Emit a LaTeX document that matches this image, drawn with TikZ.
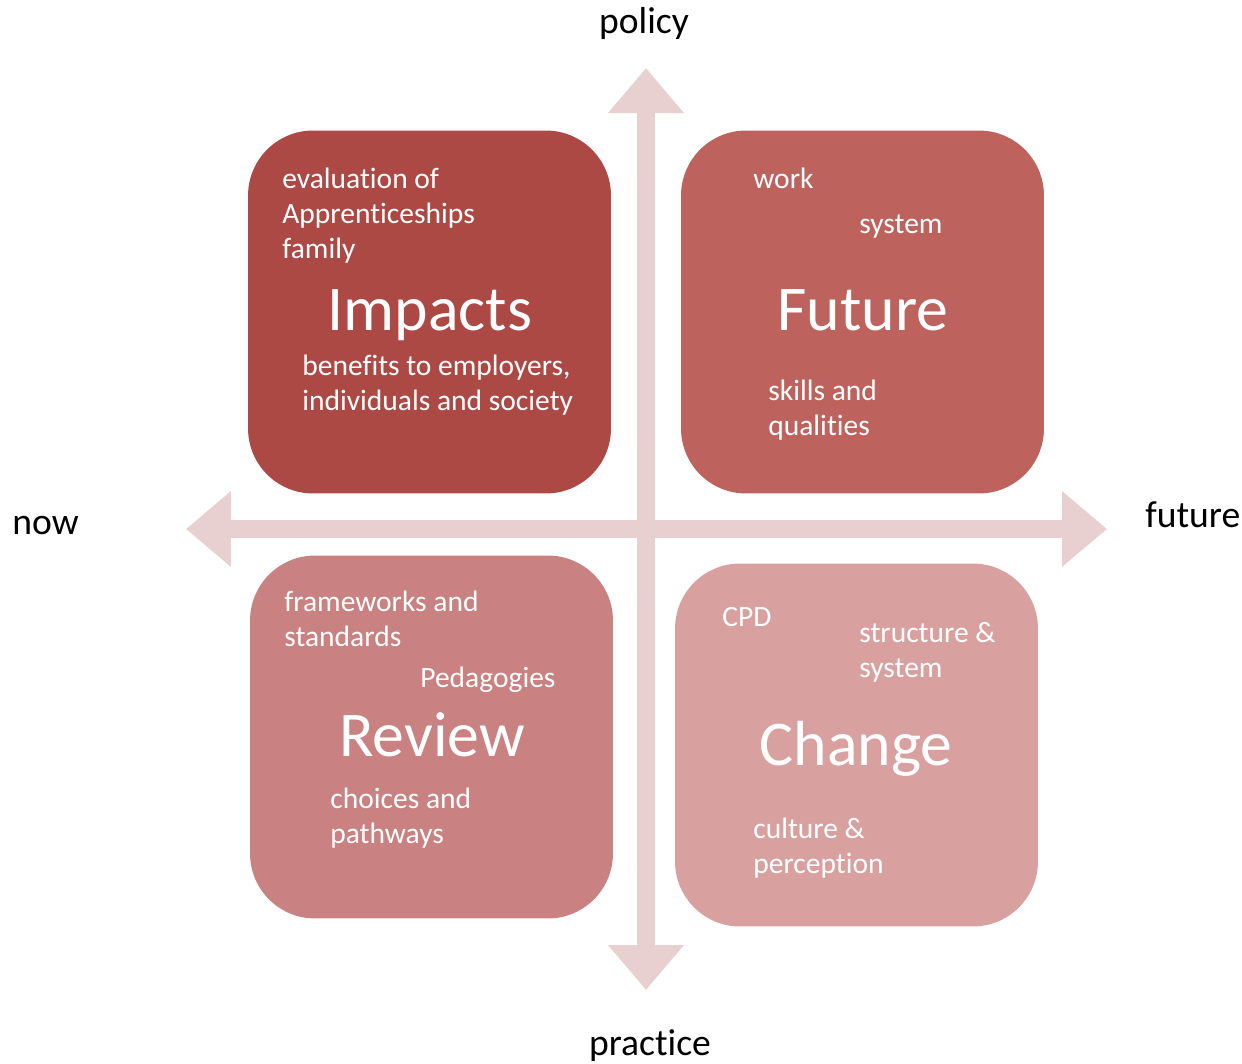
\documentclass[tikz,border=0pt]{standalone}
\usepackage{fontspec}
\setmainfont[Ligatures=NoCommon]{Carlito}
\usetikzlibrary{arrows.meta}

\definecolor{axiscol}{HTML}{E9D0D0}
\definecolor{impactcol}{HTML}{AD4945}
\definecolor{futurecol}{HTML}{BE625E}
\definecolor{reviewcol}{HTML}{C98181}
\definecolor{changecol}{HTML}{D8A1A0}

\begin{document}
\begin{tikzpicture}[
x=0.02cm, y=-0.02cm,
quad/.style={
  rounded corners=1.3cm,
  minimum size=7.26cm,
  inner sep=0
  },
axis/.style={
  axiscol,
  line width=0.36cm,
  {Triangle[width=1.46cm,length=0.9cm]}-{Triangle[width=1.46cm,length=0.9cm]}
  },
small/.style={font=\fontsize{16.8}{19.9}\selectfont, text=white, align=left, anchor=base west, inner sep=0},
big/.style={font=\fontsize{36.3}{40}\selectfont, text=white, anchor=base, inner sep=0},
pole/.style={font=\fontsize{21.4}{24}\selectfont, anchor=base, inner sep=0}
]
\useasboundingbox (0,0) rectangle (1242,1063);

% the two axes
\coordinate (top) at (646,68);
\coordinate (bottom) at (646,990);
\coordinate (left) at (186,529);
\coordinate (right) at (1107,529);
\draw[axis] (bottom) -- (top);
\draw[axis] (left) -- (right);

\node[pole] (policy) at (644,33) {policy};
\node[pole] (practice) at (650,1055) {practice};
\node[pole,anchor=base west] (now) at (12,534) {now};
\node[pole,anchor=base west] (later) at (1145,527) {future};

% quadrants
\foreach \Name/\Pos/\Col in {impacts/{(429.5,312)}/impactcol,
                             future/{(862.5,312)}/futurecol,
                             review/{(431.5,737)}/reviewcol,
                             change/{(856.5,745)}/changecol}
  \node[quad,fill=\Col] (\Name) at \Pos {};

% Impacts (multi-line nodes sit on their last line)
\node[big] (impactsT) at (430,330) {Impacts};
\node[small] (impactsA) at (282,258) {evaluation of\\Apprenticeships\\family};
\node[small] (impactsB) at (302,410) {benefits to employers,\\individuals and society};

% Future
\node[big] (futureT) at (863,330) {Future};
\node[small] (futureA) at (753,188) {work};
\node[small] (futureB) at (859,233) {system};
\node[small] (futureC) at (768,435) {skills and\\qualities};

% Review
\node[big] (reviewT) at (432,756) {Review};
\node[small] (reviewA) at (284,646) {frameworks and\\standards};
\node[small] (reviewB) at (420,687) {Pedagogies};
\node[small] (reviewC) at (330,843) {choices and\\pathways};

% Change
\node[big] (changeT) at (856,765) {Change};
\node[small] (changeA) at (722,626) {CPD};
\node[small] (changeB) at (859,677) {structure \&\\system};
\node[small] (changeC) at (753,873) {culture \&\\perception};
\end{tikzpicture}
\end{document}
